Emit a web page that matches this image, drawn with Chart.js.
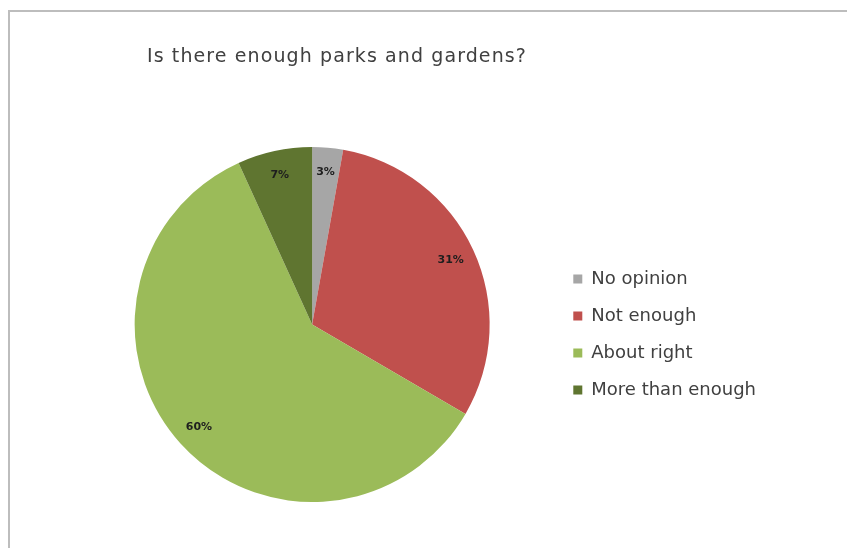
<!DOCTYPE html>
<html>
<head>
<meta charset="utf-8">
<script src="https://cdn.jsdelivr.net/npm/chart.js@4"></script>
<style>
  html, body { margin: 0; padding: 0; background: #fff; overflow: hidden; }
  #frame {
    position: absolute; left: 8px; top: 10px; width: 900px; height: 600px;
    border-top: 2px solid #bdbdbd; border-left: 2px solid #bdbdbd;
  }
  #title {
    position: absolute; left: 147px; top: 44px;
    font-family: 'DejaVu Sans', sans-serif; font-size: 19px; letter-spacing: 1.1px; color: #404040;
    white-space: nowrap;
  }
  #wrap { position: absolute; left: 0; top: 0; width: 847px; height: 548px; }
</style>
</head>
<body>
<div id="frame"></div>
<div id="wrap"><canvas id="pieChart"></canvas></div>
<div id="title">Is there enough parks and gardens?</div>
<script>
// dados (percentagens)
const categories = ['No opinion', 'Not enough', 'About right', 'More than enough'];
const values = [2.8, 30.6, 59.8, 6.8];
const colors = ['#A6A6A6', '#C0504D', '#9BBB59', '#5F7530'];

// rótulos de percentagem perto da borda de cada fatia
const sliceLabels = {
    id: 'sliceLabels',
    afterDatasetsDraw(chart) {
        const ctx = chart.ctx;
        const meta = chart.getDatasetMeta(0);
        const total = values.reduce((a, b) => a + b, 0);
        ctx.save();
        ctx.font = 'bold 11px "DejaVu Sans", sans-serif';
        ctx.fillStyle = '#1e1e1e';
        ctx.textAlign = 'center';
        ctx.textBaseline = 'middle';
        meta.data.forEach((arc, i) => {
            const p = arc.getProps(['x', 'y', 'startAngle', 'endAngle', 'outerRadius'], true);
            const mid = (p.startAngle + p.endAngle) / 2;
            const r = p.outerRadius * 0.86;
            const txt = Math.round(values[i] / total * 100) + '%';
            ctx.fillText(txt, p.x + Math.cos(mid) * r, p.y + Math.sin(mid) * r);
        });
        ctx.restore();
    }
};

new Chart(document.getElementById('pieChart'), {
    type: 'pie',
    data: {
        labels: categories,
        datasets: [{
            data: values,
            backgroundColor: colors,
            borderWidth: 0
        }]
    },
    options: {
        responsive: true,
        maintainAspectRatio: false,
        animation: false,
        layout: { padding: { left: 70, right: 81, top: 147, bottom: 46 } },
        plugins: {
            legend: {
                position: 'right',
                title: { display: true, text: ' ', font: { size: 10 }, padding: { top: 4, bottom: 4 } },
                labels: {
                    boxWidth: 9,
                    boxHeight: 9,
                    padding: 19,
                    color: '#404040',
                    font: { size: 18, family: "'DejaVu Sans', sans-serif" }
                }
            },
            tooltip: { enabled: false }
        }
    },
    plugins: [sliceLabels]
});
</script>
</body>
</html>
